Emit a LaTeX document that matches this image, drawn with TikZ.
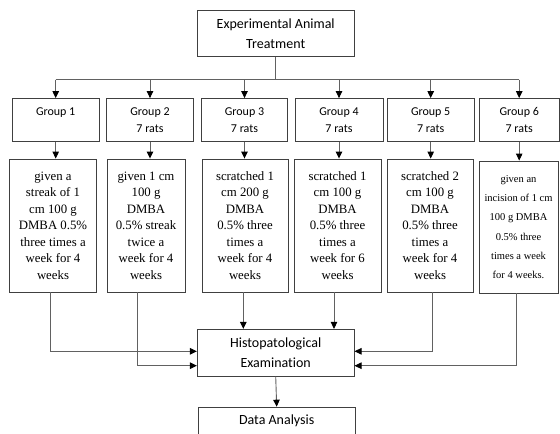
\documentclass[tikz,border=0pt]{standalone}
\usepackage{fontspec}
\setmainfont{Liberation Serif}
\newfontfamily\calfont[Ligatures=NoCommon]{Carlito}
\usetikzlibrary{arrows.meta}
\begin{document}
\begin{tikzpicture}[x=1pt,y=-1pt,
  box/.style={draw=black!75, line width=0.9pt, inner sep=0pt, align=center},
  big/.style={box, font=\calfont\fontsize{14}{19.5}\selectfont, minimum width=156.7pt, minimum height=46pt},
  grp/.style={box, font=\calfont\fontsize{12}{17}\selectfont, minimum height=42.5pt},
  txt/.style={box, font=\fontsize{12.8}{16.5}\selectfont, minimum height=133pt},
  txtsmall/.style={box, font=\fontsize{10.5}{19.2}\selectfont, minimum height=132pt},
  ln/.style={draw=black!62, line width=0.9pt},
  arr/.style={ln, -{Triangle[length=7pt,width=6.5pt,fill=black,color=black]}}
]
\clip (0,0) rectangle (560,434);
\fill[white] (0,0) rectangle (560,434);

\node[big] (top) at (275.7,33.7) {Experimental Animal\\Treatment};

\node[grp, minimum width=86.7pt] (g1) at (55.7,119.8) {Group 1\\\mbox{}};
\node[grp, minimum width=86.6pt] (g2) at (150,119.8) {Group 2\\7 rats};
\node[grp, minimum width=85.6pt] (g3) at (244.5,119.8) {Group 3\\7 rats};
\node[grp, minimum width=88pt] (g4) at (339,119.8) {Group 4\\7 rats};
\node[grp, minimum width=86.7pt] (g5) at (430.7,119.8) {Group 5\\7 rats};
\node[grp, minimum width=80.5pt] (g6) at (519.2,119.8) {Group 6\\7 rats};

\node[txt, minimum width=87.4pt] (t1) at (53,225.5) {given a\\streak of 1\\cm 100 g\\DMBA 0.5\%\\three times a\\week for 4\\weeks};
\node[txt, minimum width=78pt] (t2) at (146,225.5) {given 1 cm\\100 g\\DMBA\\0.5\% streak\\twice a\\week for 4\\weeks};
\node[txt, minimum width=86pt] (t3) at (245,225.5) {scratched 1\\cm 200 g\\DMBA\\0.5\% three\\times a\\week for 4\\weeks};
\node[txt, minimum width=87pt] (t4) at (337.5,225.5) {scratched 1\\cm 100 g\\DMBA\\0.5\% three\\times a\\week for 6\\weeks};
\node[txt, minimum width=86pt] (t5) at (430,225.5) {scratched 2\\cm 100 g\\DMBA\\0.5\% three\\times a\\week for 4\\weeks};
\node[txtsmall, minimum width=79pt] (t6) at (518.5,227) {given an\\incision of 1 cm\\100 g DMBA\\0.5\% three\\times a week\\for 4 weeks.};

\node[big, minimum height=46.7pt] (histo) at (275.7,352.7) {Histopatological\\Examination};
\node[box, font=\calfont\fontsize{14}{19.5}\selectfont, minimum width=156.7pt, inner ysep=4pt, text height=13.8pt, text depth=30pt, anchor=north] (data) at (276.7,406.7) {Data Analysis};

% bus
\coordinate (bus) at (0,79.5);
\coordinate (ya) at (0,351.3);
\coordinate (yb) at (0,365.7);
\draw[ln] (top.south) -- (top.south |- bus);
\draw[ln] (g1.north |- bus) -- (g6.north |- bus);
\foreach \i in {1,...,6} {
  \draw[arr] (g\i.north |- bus) -- (g\i.north);
  \draw[arr] (g\i.south) -- (g\i.south |- t\i.north);
}

% to histopathology
\draw[arr] ([xshift=-2.3pt]t1.south) |- (histo.west |- ya);
\draw[arr] ([xshift=-8.3pt]t2.south) |- (histo.west |- yb);
\draw[arr] ([xshift=-1.7pt]t3.south) -- ([xshift=-1.7pt]t3.south |- histo.north);
\draw[arr] ([xshift=-3.5pt]t4.south) -- ([xshift=-3.5pt]t4.south |- histo.north);
\draw[arr] ([xshift=2.3pt]t5.south) |- (histo.east |- ya);
\draw[arr] ([xshift=-2.5pt]t6.south) |- (histo.east |- yb);
\draw[arr] (histo.south) -- (data.north);
\end{tikzpicture}
\end{document}
